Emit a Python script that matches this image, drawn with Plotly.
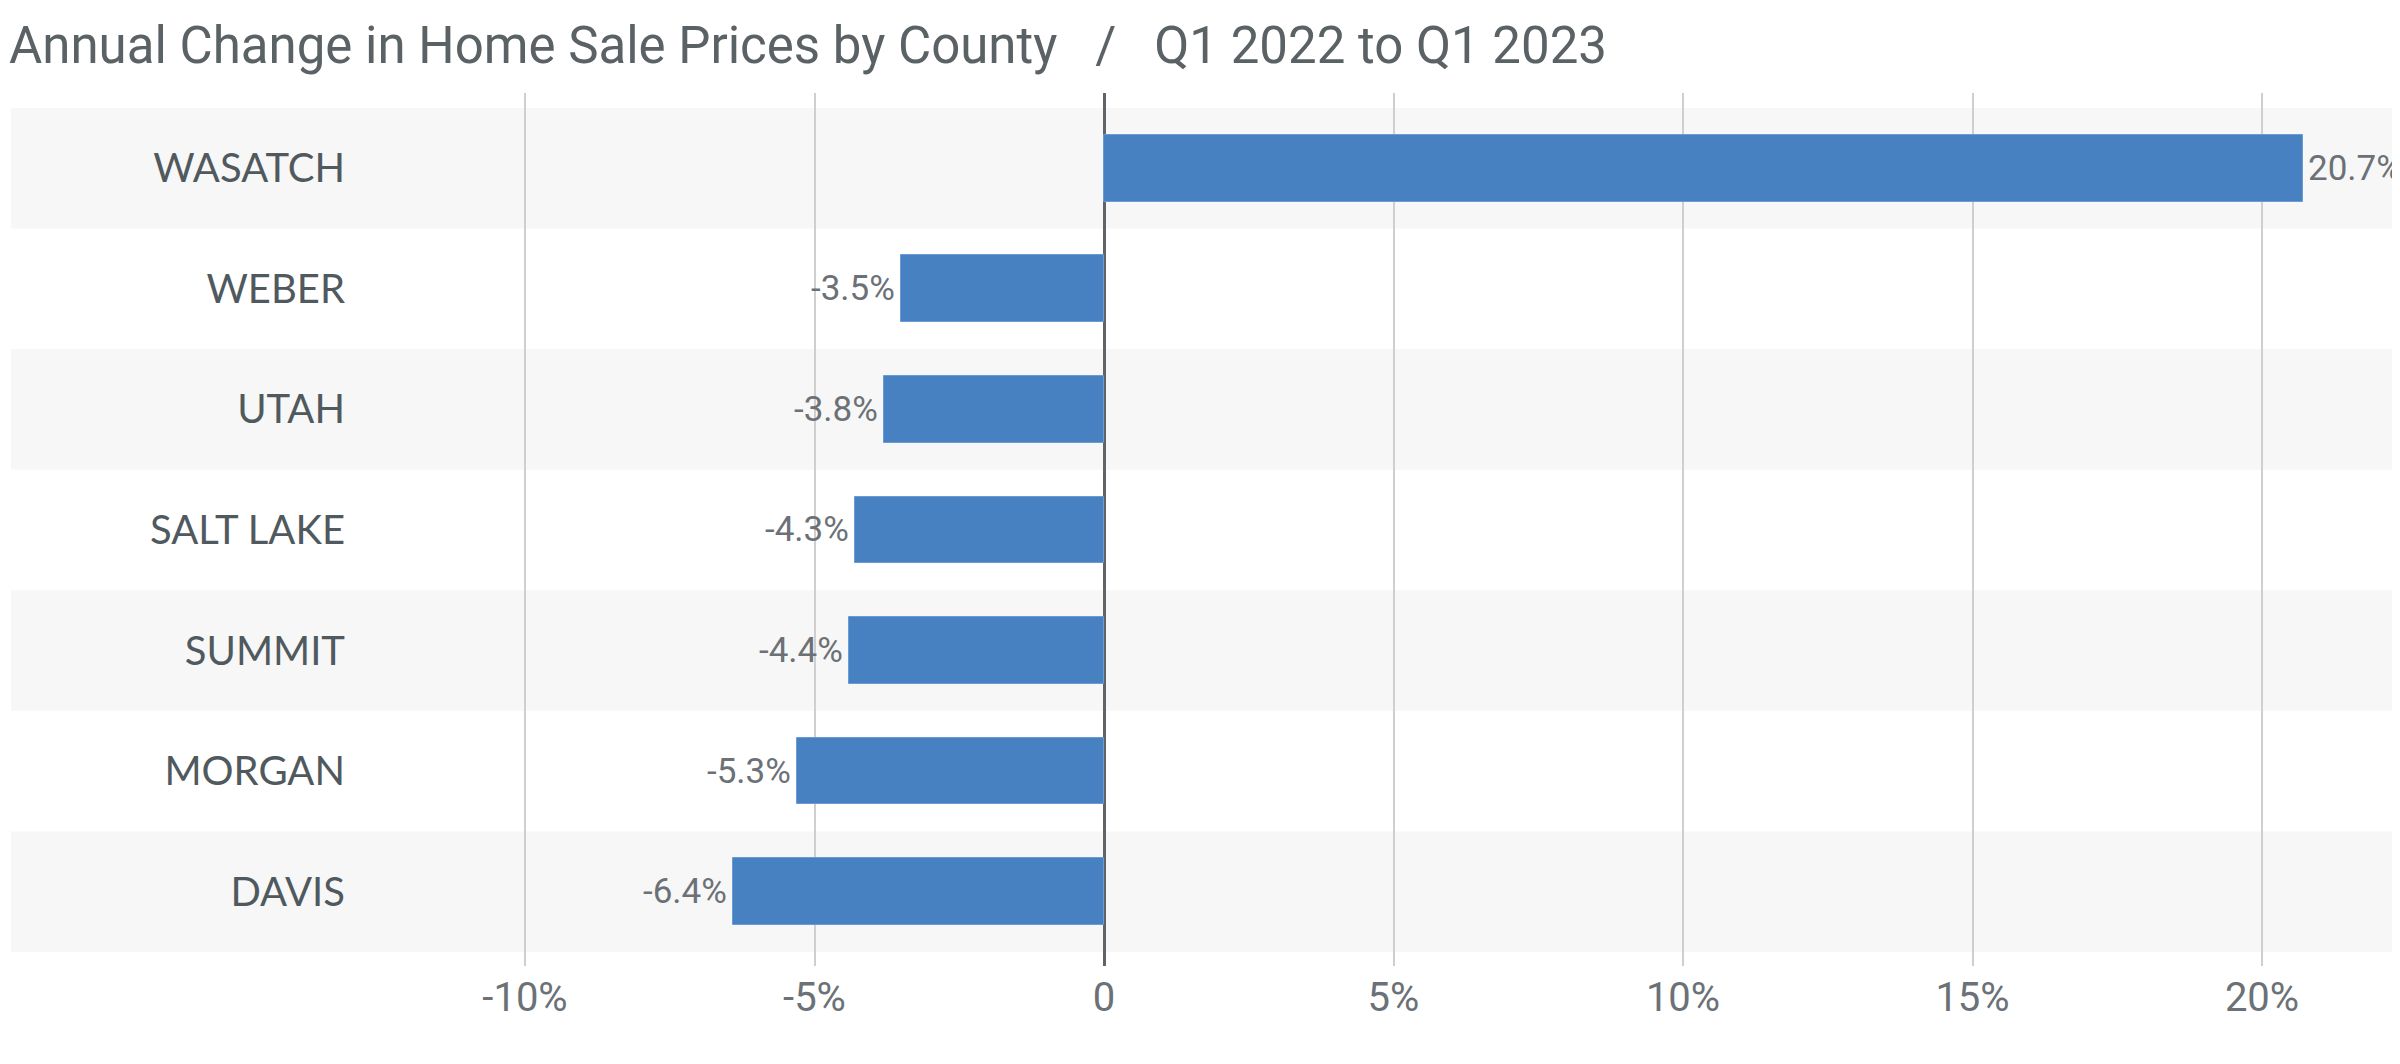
import plotly.graph_objects as go

counties = ["WASATCH", "WEBER", "UTAH", "SALT LAKE", "SUMMIT", "MORGAN", "DAVIS"]
changes = [20.7, -3.5, -3.8, -4.3, -4.4, -5.3, -6.4]
tick_vals = [-10, -5, 0, 5, 10, 15, 20]
tick_text = ["-10%", "-5%", "0", "5%", "10%", "15%", "20%"]
title_text = "Annual Change in Home Sale Prices by County\u00a0\u00a0\u00a0/\u00a0\u00a0\u00a0Q1 2022 to Q1 2023"

W, H = 2400, 1064
L, R, T, B = 360, 5, 85, 106
num_font = "Roboto, sans-serif"

fig = go.Figure()
fig.add_trace(go.Bar(
    x=changes, y=counties, orientation="h",
    width=0.553,
    marker=dict(color="#4781c2", line=dict(color="#6a9bd3", width=1)),
    hoverinfo="skip",
))

for c, v in zip(counties, changes):
    fig.add_annotation(
        x=v, y=c, xref="x", yref="y",
        text=f"{v:.1f}%", showarrow=False,
        xanchor="left" if v >= 0 else "right",
        xshift=4 if v >= 0 else -5,
        borderpad=0,
        font=dict(family=num_font, size=35, color="#6b7176"),
    )

plot_w = W - L - R
for i, c in enumerate(counties):
    if i % 2 == 0:
        fig.add_shape(type="rect", layer="below",
                      xref="paper", yref="y",
                      x0=(3 - L) / plot_w, x1=1.0,
                      y0=i - 0.5, y1=i + 0.5,
                      fillcolor="#f7f7f7", line=dict(width=0))

px_per = (2254 - 1096) / 20.0
xmin = (L - 1096) / px_per
xmax = (W - R - 1096) / px_per

fig.update_layout(
    width=W, height=H,
    margin=dict(l=L, r=R, t=T, b=B, autoexpand=False),
    paper_bgcolor="white", plot_bgcolor="rgba(0,0,0,0)",
    showlegend=False,
    bargap=0,
    title=dict(text=title_text, xref="container", yref="container",
               x=1 / W, xanchor="left", y=1 - 37 / H, yanchor="middle",
               font=dict(family="Roboto, sans-serif", size=51, color="#5b6266")),
    xaxis=dict(range=[xmin, xmax], tickvals=tick_vals, ticktext=tick_text,
               showgrid=True, gridcolor="#cfcfcf", gridwidth=1.5,
               zeroline=True, zerolinecolor="#5f6469", zerolinewidth=3,
               showline=False, ticks="", ticklabelstandoff=4,
               tickfont=dict(family=num_font, size=40, color="#6b7176")),
    yaxis=dict(categoryorder="array", categoryarray=counties,
               range=[6.616, -0.624], showgrid=False, zeroline=False,
               showline=False, ticks="", ticklabelstandoff=22,
               tickfont=dict(family="Lato, Roboto, sans-serif", size=40, color="#50595e")),
)

fig.write_html("out.html")
